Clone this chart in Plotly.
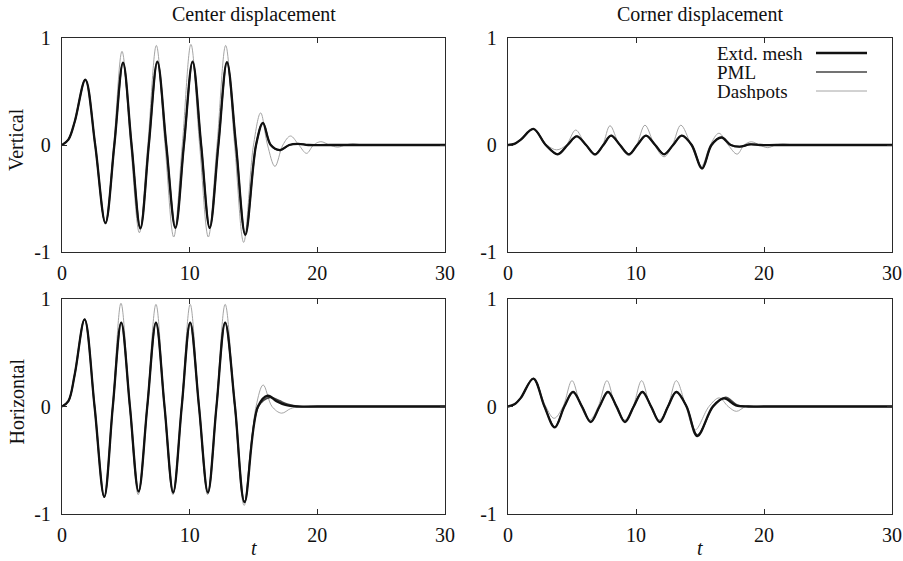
import plotly.graph_objects as go

# ---------------- data ----------------
# Center displacement, vertical
t_cv_ext = [0, 0.5, 1.0, 1.83, 2.6, 3.4, 4.1, 4.78, 5.45, 6.14, 6.8, 7.47, 8.17, 8.88, 9.55, 10.23,
            10.9, 11.57, 12.25, 12.92, 13.63, 14.36, 15.2, 15.74, 16.35, 17.07, 17.8, 18.5, 19.3, 21, 30]
y_cv_ext = [0, 0.05, 0.22, 0.61, 0.0, -0.73, 0, 0.77, 0, -0.78, 0, 0.78, 0, -0.775, 0, 0.78,
            0, -0.775, 0, 0.775, 0, -0.84, 0, 0.205, 0.0, -0.047, 0, 0.01, 0, 0, 0]
t_cv_pml = t_cv_ext
y_cv_pml = [0, 0.05, 0.22, 0.61, 0.0, -0.73, 0, 0.765, 0, -0.775, 0, 0.775, 0, -0.77, 0, 0.775,
            0, -0.77, 0, 0.77, 0, -0.835, 0, 0.21, 0.0, -0.05, 0, 0.012, 0, 0, 0]
t_cv_dsh = [0, 0.5, 1.0, 1.83, 2.6, 3.4, 4.05, 4.7, 5.38, 6.06, 6.72, 7.39, 8.07, 8.75, 9.42, 10.1,
            10.78, 11.46, 12.14, 12.82, 13.52, 14.23, 15.0, 15.56, 16.1, 16.68, 17.3, 17.9, 18.55,
            19.16, 19.7, 20.28, 20.95, 21.6, 22.2, 22.8, 23.5, 24.2, 25, 30]
y_cv_dsh = [0, 0.05, 0.22, 0.61, 0, -0.74, 0, 0.875, 0, -0.82, 0, 0.93, 0, -0.86, 0, 0.94,
            0, -0.86, 0, 0.93, 0, -0.91, 0, 0.30, 0, -0.20, 0, 0.084, 0,
            -0.078, 0, 0.031, 0, -0.02, 0, 0.012, 0, -0.005, 0, 0]

# Corner displacement, vertical
t_kv_ext = [0, 0.5, 1.0, 1.98, 2.95, 3.88, 4.65, 5.37, 6.1, 6.8, 7.45, 8.05, 8.75, 9.45, 10.1, 10.78,
            11.5, 12.2, 12.9, 13.57, 14.35, 15.16, 15.9, 16.67, 17.4, 18.1, 18.9, 19.7, 21, 30]
y_kv_ext = [0, 0.01, 0.05, 0.15, 0.0, -0.087, 0, 0.08, 0, -0.088, 0, 0.087, 0, -0.087, 0, 0.087,
            0, -0.087, 0, 0.087, 0, -0.22, 0, 0.07, 0, -0.015, 0.005, 0, 0, 0]
t_kv_pml = t_kv_ext
y_kv_pml = [0, 0.01, 0.05, 0.15, 0.0, -0.085, 0, 0.082, 0, -0.086, 0, 0.088, 0, -0.085, 0, 0.088,
            0, -0.085, 0, 0.088, 0, -0.215, 0, 0.072, 0, -0.017, 0.006, 0, 0, 0]
t_kv_dsh = [0, 0.5, 1.0, 1.98, 3.05, 3.8, 4.55, 5.29, 6.05, 6.8, 7.4, 7.97, 8.7, 9.45, 10.05, 10.7,
            11.45, 12.2, 12.85, 13.5, 14.3, 15.1, 15.8, 16.48, 17.2, 17.9, 18.45, 19.0, 19.65,
            20.3, 20.9, 21.5, 22.3, 23, 30]
y_kv_dsh = [0, 0.01, 0.05, 0.15, 0, -0.045, 0, 0.14, 0, -0.095, 0, 0.18, 0, -0.10, 0, 0.185,
            0, -0.11, 0, 0.185, 0, -0.20, 0, 0.11, 0, -0.085, 0, 0.03, 0,
            -0.025, 0, 0.01, 0, 0, 0]

# Center displacement, horizontal
t_ch_ext = [0, 0.5, 1.0, 1.77, 2.55, 3.31, 3.98, 4.64, 5.32, 6.0, 6.68, 7.36, 8.03, 8.71, 9.38, 10.04,
            10.73, 11.43, 12.1, 12.78, 13.55, 14.3, 15.35, 16.12, 16.8, 17.5, 18.4, 20, 30]
y_ch_ext = [0, 0.05, 0.3, 0.81, 0, -0.84, 0, 0.78, 0, -0.79, 0, 0.78, 0, -0.80, 0, 0.78,
            0, -0.80, 0, 0.78, 0, -0.89, 0, 0.10, 0.05, 0.015, 0, 0, 0]
t_ch_pml = [0, 0.5, 1.0, 1.77, 2.55, 3.31, 3.98, 4.64, 5.32, 6.0, 6.68, 7.36, 8.03, 8.71, 9.38, 10.04,
            10.73, 11.43, 12.1, 12.78, 13.55, 14.3, 15.38, 16.3, 17.0, 17.7, 18.6, 20, 30]
y_ch_pml = [0, 0.05, 0.3, 0.81, 0, -0.84, 0, 0.78, 0, -0.79, 0, 0.78, 0, -0.80, 0, 0.78,
            0, -0.80, 0, 0.78, 0, -0.885, 0, 0.085, 0.055, 0.02, 0, 0, 0]
t_ch_dsh = [0, 0.5, 1.0, 1.77, 2.55, 3.31, 3.97, 4.62, 5.3, 5.97, 6.67, 7.36, 8.02, 8.69, 9.37, 10.04,
            10.72, 11.4, 12.09, 12.78, 13.52, 14.27, 15.2, 15.76, 16.45, 17.2, 17.9, 18.6, 20, 30]
y_ch_dsh = [0, 0.05, 0.3, 0.81, 0, -0.85, 0, 0.96, 0, -0.82, 0, 0.95, 0, -0.82, 0, 0.95,
            0, -0.82, 0, 0.95, 0, -0.92, 0, 0.20, 0, -0.062, -0.02, 0, 0, 0]

# Corner displacement, horizontal
t_kh_ext = [0, 0.5, 1.0, 1.98, 2.85, 3.65, 4.4, 5.08, 5.78, 6.46, 7.15, 7.81, 8.48, 9.14, 9.82, 10.5,
            11.18, 11.85, 12.5, 13.15, 13.95, 14.79, 16.0, 16.88, 17.8, 18.8, 20, 30]
y_kh_ext = [0, 0.02, 0.08, 0.26, 0, -0.195, 0, 0.135, 0, -0.145, 0, 0.135, 0, -0.145, 0, 0.135,
            0, -0.145, 0, 0.135, 0, -0.275, 0, 0.075, 0.01, 0, 0, 0]
t_kh_pml = [0, 0.5, 1.0, 1.98, 2.85, 3.65, 4.4, 5.08, 5.78, 6.46, 7.15, 7.81, 8.48, 9.14, 9.82, 10.5,
            11.18, 11.85, 12.5, 13.15, 13.95, 14.79, 16.05, 17.0, 17.9, 18.9, 20, 30]
y_kh_pml = [0, 0.02, 0.08, 0.26, 0, -0.19, 0, 0.14, 0, -0.14, 0, 0.14, 0, -0.14, 0, 0.14,
            0, -0.14, 0, 0.14, 0, -0.265, 0, 0.085, 0.015, 0, 0, 0]
t_kh_dsh = [0, 0.5, 1.0, 1.98, 2.95, 3.6, 4.3, 5.0, 5.7, 6.38, 7.05, 7.73, 8.4, 9.09, 9.77, 10.44,
            11.12, 11.8, 12.48, 13.15, 13.9, 14.6, 15.7, 16.5, 17.2, 17.84, 18.6, 20, 30]
y_kh_dsh = [0, 0.02, 0.08, 0.26, 0, -0.11, 0, 0.24, 0, -0.125, 0, 0.24, 0, -0.125, 0, 0.24,
            0, -0.125, 0, 0.24, 0, -0.22, 0, 0.08, 0, -0.045, 0, 0, 0]

series_names = ["Extd. mesh", "PML", "Dashpots"]
col_titles = ["Center displacement", "Corner displacement"]
row_titles = ["Vertical", "Horizontal"]
x_ticks = [0, 10, 20, 30]
y_ticks = [-1, 0, 1]
y_tick_labels = ["-1", "0", "1"]
x_label = "t"

# ---------------- styling ----------------
W, H = 903, 561
FONT = "Liberation Serif"
FS = 20
LEG_FS = 19
styles = {
    "Extd. mesh": dict(color="#111111", width=2.3),
    "PML": dict(color="#454545", width=1.6),
    "Dashpots": dict(color="#9a9a9a", width=0.9),
}

# panel pixel boxes (left, right, top, bottom)
boxes = {
    1: (62, 445, 38, 252),
    2: (508, 892, 38, 252),
    3: (62, 445, 299, 514),
    4: (508, 892, 299, 514),
}

panels = {
    1: [(t_cv_dsh, y_cv_dsh, "Dashpots"), (t_cv_pml, y_cv_pml, "PML"), (t_cv_ext, y_cv_ext, "Extd. mesh")],
    2: [(t_kv_dsh, y_kv_dsh, "Dashpots"), (t_kv_pml, y_kv_pml, "PML"), (t_kv_ext, y_kv_ext, "Extd. mesh")],
    3: [(t_ch_dsh, y_ch_dsh, "Dashpots"), (t_ch_pml, y_ch_pml, "PML"), (t_ch_ext, y_ch_ext, "Extd. mesh")],
    4: [(t_kh_dsh, y_kh_dsh, "Dashpots"), (t_kh_pml, y_kh_pml, "PML"), (t_kh_ext, y_kh_ext, "Extd. mesh")],
}

fig = go.Figure()
layout = dict(
    width=W, height=H, margin=dict(l=0, r=0, t=0, b=0),
    paper_bgcolor="white", plot_bgcolor="white", showlegend=False,
    font=dict(family=FONT, size=FS, color="#111111"),
)

axis_common = dict(
    showgrid=False, zeroline=False, showline=True, linecolor="#2a2a2a", linewidth=1.2,
    mirror="ticks", ticks="inside", ticklen=5, tickwidth=1, tickcolor="#2a2a2a",
    tickfont=dict(family=FONT, size=FS, color="#111111"), automargin=False,
)

for k, (l, r, t, b) in boxes.items():
    sfx = "" if k == 1 else str(k)
    xa = "x" + sfx
    ya = "y" + sfx
    layout["xaxis" + sfx] = dict(
        axis_common, domain=[l / W, r / W], range=[0, 30], tickvals=x_ticks,
        ticktext=[str(v) for v in x_ticks], anchor=ya, ticklabelstandoff=3,
    )
    layout["yaxis" + sfx] = dict(
        axis_common, domain=[1 - b / H, 1 - t / H], range=[-1, 1], tickvals=y_ticks,
        ticktext=y_tick_labels, anchor=xa, ticklabelstandoff=6,
    )
    for tx, ty, nm in panels[k]:
        st = styles[nm]
        fig.add_trace(go.Scatter(
            x=tx, y=ty, mode="lines", name=nm, xaxis=xa, yaxis=ya,
            line=dict(color=st["color"], width=st["width"], shape="spline", smoothing=1.0),
            hoverinfo="skip",
        ))

ann = []
for i, txt in enumerate(col_titles):
    l, r, _, _ = boxes[i + 1]
    ann.append(dict(text=txt, x=(l + r) / 2 / W, y=1 - 15 / H, xref="paper", yref="paper",
                    showarrow=False, xanchor="center", yanchor="middle",
                    font=dict(family=FONT, size=FS, color="#111111")))
for i, txt in enumerate(row_titles):
    _, _, t, b = boxes[2 * i + 1]
    ann.append(dict(text=txt, x=16 / W, y=1 - ((t + b) / 2 - 5) / H, xref="paper", yref="paper",
                    showarrow=False, xanchor="center", yanchor="middle", textangle=-90,
                    font=dict(family=FONT, size=FS, color="#111111")))
for k in (3, 4):
    l, r, _, _ = boxes[k]
    ann.append(dict(text="<i>" + x_label + "</i>", x=(l + r) / 2 / W, y=1 - 548 / H,
                    xref="paper", yref="paper", showarrow=False, xanchor="center",
                    yanchor="middle", font=dict(family=FONT, size=FS, color="#111111")))

# legend (text on the left, line sample on the right, as in the reference)
shapes = []
leg_y = [53, 72, 91]
for nm, yy in zip(series_names, leg_y):
    ann.append(dict(text=nm, x=715 / W, y=1 - yy / H, xref="paper", yref="paper",
                    showarrow=False, xanchor="left", yanchor="middle", height=18,
                    font=dict(family=FONT, size=LEG_FS, color="#111111")))
    st = styles[nm]
    shapes.append(dict(type="line", xref="paper", yref="paper", x0=816 / W, x1=867 / W,
                       y0=1 - yy / H, y1=1 - yy / H,
                       line=dict(color=st["color"], width=st["width"])))

layout["annotations"] = ann
layout["shapes"] = shapes
fig.update_layout(**layout)
fig.write_html("out.html", config={"displayModeBar": False, "staticPlot": True},
               post_script="document.body.style.margin='0';document.body.style.overflow='hidden';")
